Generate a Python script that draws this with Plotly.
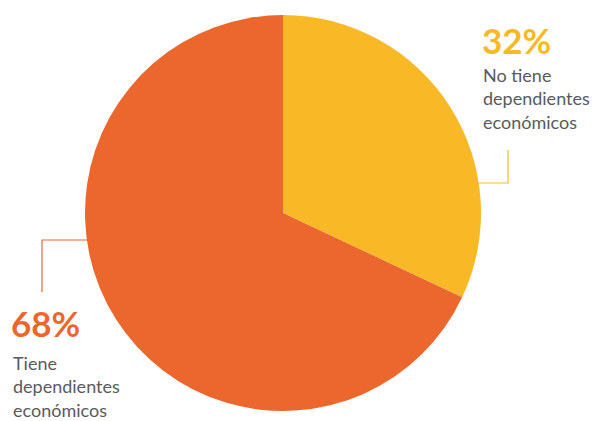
import plotly.graph_objects as go

categories = ["No tiene dependientes económicos", "Tiene dependientes económicos"]
values = [32, 68]
colors = ["#F9B826", "#EB672D"]
pct_labels = ["32%", "68%"]
desc_labels = ["No tiene<br>dependientes<br>económicos", "Tiene<br>dependientes<br>económicos"]

OFF = 8  # page body margin
W, H = 600 - OFF, 421 - OFF
def px(x):
    return (x - OFF) / W
def py(y):
    return 1 - (y - OFF) / H

fig = go.Figure(go.Pie(
    labels=categories, values=values, sort=False, direction="clockwise", rotation=0,
    marker=dict(colors=colors, line=dict(width=0)), textinfo="none", hoverinfo="label+percent",
    domain=dict(x=[px(85), px(481)], y=[py(411), py(15)]), showlegend=False,
))

FONT = "Lato"
GRAY = "#5a5a5c"
annos = [
    dict(x=px(480), y=py(17), text=f"<b>{pct_labels[0]}</b>", font=dict(family=FONT, size=35, color=colors[0])),
    dict(x=px(481), y=py(62), text=desc_labels[0], font=dict(family=FONT, size=18, color=GRAY)),
    dict(x=px(9), y=py(300), text=f"<b>{pct_labels[1]}</b>", font=dict(family=FONT, size=35, color=colors[1])),
    dict(x=px(11), y=py(350), text=desc_labels[1], font=dict(family=FONT, size=18, color=GRAY)),
]
for a in annos:
    fig.add_annotation(xref="paper", yref="paper", xanchor="left", yanchor="top", showarrow=False, align="left", **a)

fig.add_shape(type="path", xref="paper", yref="paper",
              path=f"M {px(478)} {py(183)} L {px(508)} {py(183)} L {px(508)} {py(150)}",
              line=dict(color=colors[0], width=1.2))
fig.add_shape(type="path", xref="paper", yref="paper",
              path=f"M {px(88)} {py(240)} L {px(42)} {py(240)} L {px(42)} {py(292)}",
              line=dict(color=colors[1], width=1.2))

fig.update_layout(width=W, height=H, margin=dict(l=0, r=0, t=0, b=0),
                  paper_bgcolor="white", plot_bgcolor="white")
fig.write_html("out.html")
